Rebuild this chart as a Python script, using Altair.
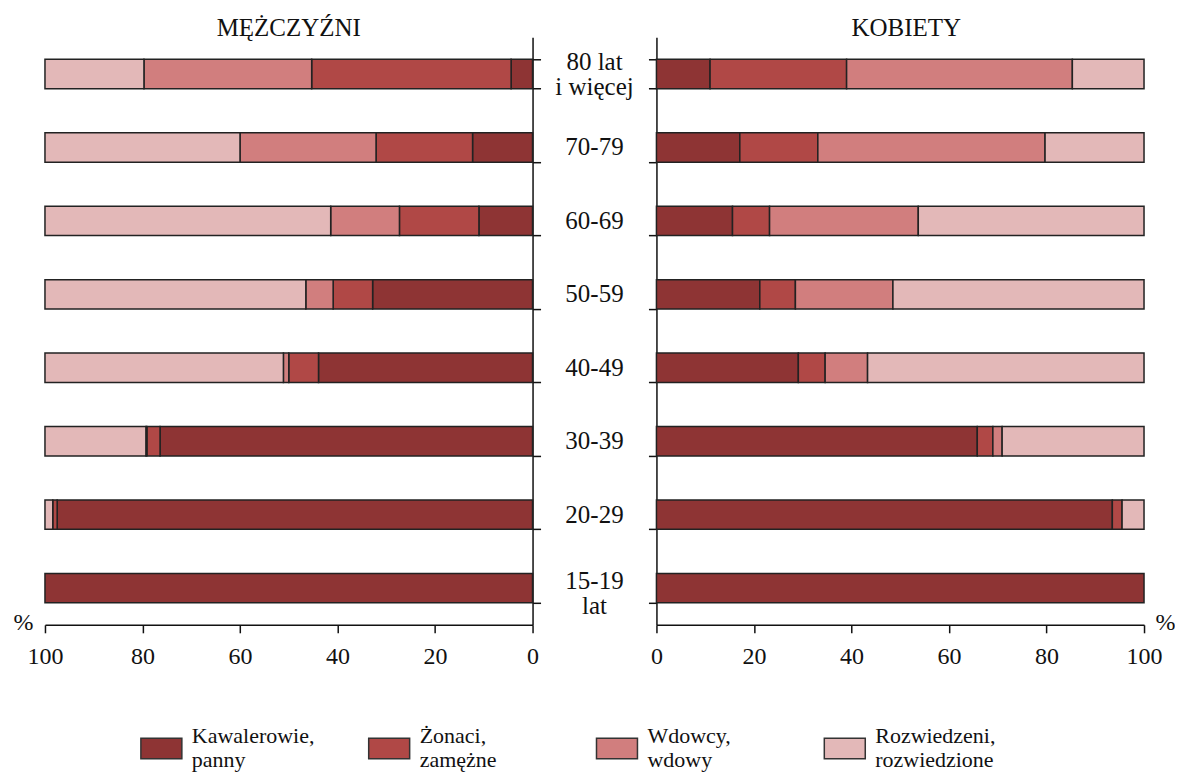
import altair as alt
import pandas as pd

ages = ["80 lat\ni więcej", "70-79", "60-69", "50-59", "40-49", "30-39", "20-29", "15-19\nlat"]
statuses = ["Kawalerowie,\npanny", "Żonaci,\nzamężne", "Wdowcy,\nwdowy", "Rozwiedzeni,\nrozwiedzione"]
colors = ["#8e3434", "#b04846", "#d17e7e", "#e3b8b8"]

# Mężczyźni (share in %, ages top to bottom)
kaw_m = [4.4, 12.3, 11.0, 32.8, 43.9, 76.4, 97.5, 100.0]
zon_m = [40.9, 19.8, 16.3, 8.1, 6.1, 2.7, 0.9, 0.0]
wdo_m = [34.4, 27.9, 14.1, 5.6, 1.1, 0.2, 0.0, 0.0]
roz_m = [20.3, 40.0, 58.6, 53.5, 48.9, 20.7, 1.6, 0.0]

# Kobiety
kaw_k = [11.0, 17.1, 15.6, 21.2, 29.1, 65.8, 93.5, 100.0]
zon_k = [28.0, 16.0, 7.6, 7.3, 5.5, 3.2, 2.0, 0.0]
wdo_k = [46.3, 46.6, 30.5, 20.0, 8.7, 1.9, 0.0, 0.0]
roz_k = [14.7, 20.3, 46.3, 51.5, 56.7, 29.1, 4.5, 0.0]

ticks = [0, 20, 40, 60, 80, 100]

rows = []
for sex, arrs in [("M", [kaw_m, zon_m, wdo_m, roz_m]), ("K", [kaw_k, zon_k, wdo_k, roz_k])]:
    for si, s in enumerate(statuses):
        for ai, a in enumerate(ages):
            v = arrs[si][ai]
            if v > 0:
                rows.append(dict(sex=sex, age=a, status=s, order=si, value=v))
df = pd.DataFrame(rows)

labels_df = pd.DataFrame({"age": ages, "idx": list(range(len(ages)))})

FONT = "Liberation Serif"
W_L, W_M, W_R, H = 488, 124, 488, 588

yscale = alt.Scale(domain=ages, paddingInner=0.6, paddingOuter=0.3)

color = alt.Color(
    "status:N",
    scale=alt.Scale(domain=statuses, range=colors),
    legend=alt.Legend(
        title=None,
        orient="none",
        legendX=95,
        legendY=690,
        direction="horizontal",
        columns=4,
        gridAlign="all",
        columnPadding=51,
        symbolType="M-1,-0.5H1V0.5H-1Z",
        symbolSize=1681,
        symbolStrokeColor="#333333",
        symbolStrokeWidth=1.5,
        symbolOpacity=1,
        labelFont=FONT,
        labelFontSize=22,
        labelColor="#111111",
        labelOffset=9,
        labelLimit=400,
        labelBaseline="bottom",
        labelExpr="split(datum.label, '\\n')",
    ),
)


def panel(sex, reverse, title, orient, pct_x, title_dx):
    return (
        alt.Chart(df)
        .transform_filter(alt.datum.sex == sex)
        .mark_bar(stroke="#222222", strokeWidth=1.5, opacity=1)
        .encode(
            x=alt.X(
                "value:Q",
                stack="zero",
                scale=alt.Scale(domain=[0, 100], reverse=reverse, nice=False),
                axis=alt.Axis(
                    values=ticks,
                    labelFlush=False,
                    title="%",
                    titleX=pct_x,
                    titleY=-2,
                    titleAlign="center",
                    titleBaseline="middle",
                    titleFont=FONT,
                    titleFontSize=24,
                    titleFontWeight="normal",
                    titleColor="#111111",
                    grid=False,
                ),
            ),
            y=alt.Y(
                "age:N",
                scale=yscale,
                sort=ages,
                axis=alt.Axis(orient=orient, labels=False, tickBand="extent", title=None, grid=False),
            ),
            color=color,
            order=alt.Order("order:Q"),
        )
        .properties(
            width=W_L if sex == "M" else W_R,
            height=H,
            title=alt.TitleParams(
                title, font=FONT, fontSize=25, fontWeight="normal", color="#111111",
                anchor="middle", offset=-4, dx=title_dx,
            ),
        )
    )


left = panel("M", True, "MĘŻCZYŹNI", "right", -22, 0)
right = panel("K", False, "KOBIETY", "left", W_R + 21, 6)


def age_text(filter_expr, dy):
    return (
        alt.Chart(labels_df)
        .transform_filter(filter_expr)
        .mark_text(font=FONT, fontSize=25, lineBreak="\n", lineHeight=25, color="#111111", dy=dy)
        .encode(
            y=alt.Y("age:N", scale=yscale, sort=ages, axis=None),
            text="age:N",
        )
    )


mid = alt.layer(
    age_text("datum.idx > 0 && datum.idx < 7", 0),
    age_text("datum.idx == 0", -12),
    age_text("datum.idx == 7", -7),
).properties(width=W_M, height=H)

chart = (
    alt.hconcat(left, mid, right, spacing=0, bounds="flush")
    .resolve_scale(y="shared")
    .properties(padding={"left": 5, "right": 0, "top": 8, "bottom": 0})
    .configure_view(stroke=None)
    .configure_axis(
        domainColor="#111111",
        domainWidth=1.5,
        tickColor="#111111",
        tickWidth=1.5,
        tickSize=8,
        labelFont=FONT,
        labelFontSize=24,
        labelColor="#111111",
        labelPadding=12,
    )
)

chart.save("out.html", embed_options={"renderer": "svg", "actions": False})
